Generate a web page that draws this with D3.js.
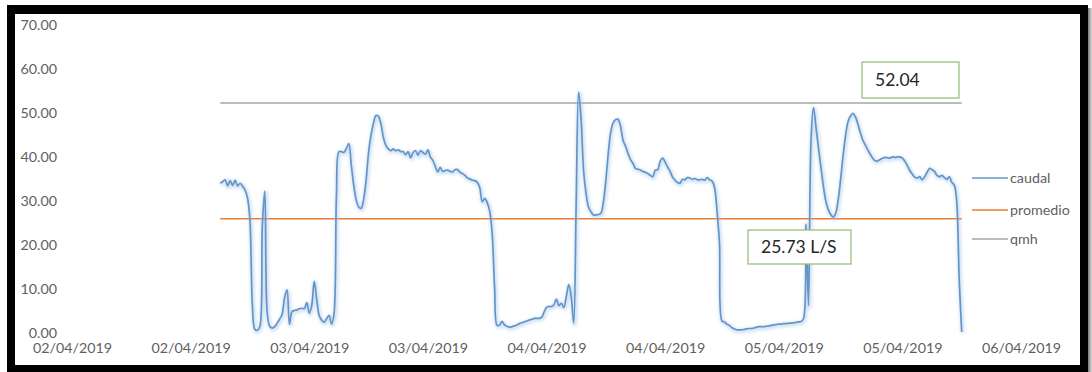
<!DOCTYPE html>
<html>
<head>
<meta charset="utf-8">
<script src="https://cdn.jsdelivr.net/npm/d3@7/dist/d3.min.js"></script>
<style>
  html, body { margin: 0; padding: 0; background: #fff; }
  svg { display: block; }
  text { font-family: Lato, "Liberation Sans", sans-serif; }
</style>
</head>
<body>
<svg id="chart" width="1092" height="372"></svg>
<script>
// Flow readings (L/s), one every 15 minutes, grouped by day.
const startTime = new Date(2019, 3, 2, 15, 0);   // 02/04/2019 15:00
const stepMinutes = 15;

const caudal02 = [ // 02/04 15:00 - 23:45
  33.8,34.2,34.6,33.2, 34.4,33.3,34.5,33.2, 33.8,33.2,32.3,30.5,
  25.4,6.0,0.6,0.4, 1.2,24.0,32.0,4.2, 1.3,0.9,1.2,2.0,
  2.9,4.0,7.8,9.6, 1.8,4.6,4.9,5.0, 5.3,5.4,5.3,6.7
];
const caudal03 = [ // 03/04 00:00 - 23:45
  4.3,6.0,11.5,7.5, 3.8,2.7,2.2,3.0, 3.8,1.8,4.0,31.0,
  41.0,41.0,40.8,41.7, 42.8,38.0,33.3,30.0, 28.4,28.1,30.2,34.5,
  40.8,44.8,47.5,49.2, 49.0,47.3,44.2,42.4, 41.6,41.2,41.6,41.2,
  41.4,41.0,41.0,40.3, 41.0,39.6,40.8,41.2, 40.2,41.2,40.8,40.4,
  41.4,39.8,39.0,37.6, 36.4,37.4,36.5,36.7, 36.8,36.5,36.4,36.9,
  36.9,36.3,36.0,35.6, 35.0,34.8,34.5,34.4, 34.0,32.8,29.6,30.4,
  29.4,27.5,22.5,10.0, 1.5,1.6,2.4,1.6, 1.3,1.1,1.2,1.4,
  1.6,1.9,2.1,2.3, 2.5,2.7,2.9,3.1, 3.1,3.1,3.3,4.5
];
const caudal04 = [ // 04/04 00:00 - 23:45
  5.6,5.8,5.8,6.2, 7.5,6.0,6.5,5.6, 8.0,10.8,8.0,2.0,
  29.0,54.5,48.4,36.7, 31.5,28.4,27.3,26.6, 26.6,26.7,27.0,29.5,
  34.4,40.6,45.5,47.6, 48.3,48.3,46.6,43.5, 42.2,40.5,39.2,38.3,
  37.2,37.0,36.8,36.5, 36.3,36.0,35.6,35.3, 36.8,36.9,38.8,39.5,
  38.6,37.5,36.5,35.2, 34.5,34.0,33.8,34.7, 34.6,35.1,35.0,34.7,
  34.9,34.6,34.6,34.7, 34.5,35.1,34.6,34.3, 32.8,27.5,20.0,2.5,
  2.3,1.8,1.5,1.0, 0.7,0.5,0.5,0.5, 0.6,0.7,0.8,0.8,
  0.9,1.1,1.2,1.2, 1.2,1.3,1.4,1.5, 1.6,1.7,1.8,1.8
];
const caudal05 = [ // 05/04 00:00 - 18:00
  1.9,1.9,2.0,2.0, 2.1,2.2,2.3,2.4, 3.0,24.5,6.0,43.0,
  51.0,46.8,42.0,37.6, 33.3,29.8,27.8,26.7, 26.1,27.0,30.0,34.6,
  40.1,44.6,47.8,49.1, 49.7,48.9,47.2,45.3, 43.6,42.5,41.4,40.4,
  39.5,38.9,38.9,39.2, 39.5,39.7,39.6,39.5, 39.8,39.7,39.8,39.8,
  39.5,38.8,37.8,36.7, 35.9,35.2,35.0,35.3, 34.6,35.3,36.3,37.2,
  36.9,36.5,35.6,35.3, 35.6,35.1,34.7,35.3, 34.0,33.4,29.5,12.0,
  0.0
];

const promedio = 25.73;   // mean flow, L/s
const qmh = 52.04;        // maximum hourly flow

const seriesNames = ["caudal", "promedio", "qmh"];
const seriesColors = ["#6495c8", "#ed7d31", "#a5a5a5"];

const yTicks = [0, 10, 20, 30, 40, 50, 60, 70];
const xTicks = [
  new Date(2019, 3, 2, 0), new Date(2019, 3, 2, 12),
  new Date(2019, 3, 3, 0), new Date(2019, 3, 3, 12),
  new Date(2019, 3, 4, 0), new Date(2019, 3, 4, 12),
  new Date(2019, 3, 5, 0), new Date(2019, 3, 5, 12),
  new Date(2019, 3, 6, 0)
];

const caudal = [].concat(caudal02, caudal03, caudal04, caudal05);
const rows = caudal.map((v, i) => ({
  t: new Date(startTime.getTime() + i * stepMinutes * 60000),
  v: v
}));

const svg = d3.select("#chart");
const W = 1092, H = 372;

// Frame
svg.append("rect").attr("x", 0).attr("y", 0).attr("width", W).attr("height", H).attr("fill", "#fff");
const defs = svg.append("defs");
const sh = defs.append("linearGradient").attr("id", "edgeShade").attr("x1", 0).attr("x2", 1);
sh.append("stop").attr("offset", 0).attr("stop-color", "#444");
sh.append("stop").attr("offset", 1).attr("stop-color", "#ddd");
svg.append("rect").attr("x", 1086).attr("y", 8).attr("width", 6).attr("height", H - 8).attr("fill", "url(#edgeShade)");
svg.append("rect").attr("x", 7).attr("y", 5).attr("width", 1081).attr("height", H - 5).attr("fill", "#000");
svg.append("rect").attr("x", 15).attr("y", 14).attr("width", 1065).attr("height", 351).attr("fill", "#fff");

// Filters for the soft line shadows
const glow = defs.append("filter").attr("id", "glow").attr("x", "-5%").attr("y", "-10%").attr("width", "110%").attr("height", "120%");
glow.append("feGaussianBlur").attr("stdDeviation", 1.8);
const drop = defs.append("filter").attr("id", "drop").attr("x", "-5%").attr("y", "-200%").attr("width", "110%").attr("height", "500%");
drop.append("feGaussianBlur").attr("stdDeviation", 1.2);

// Scales
const x = d3.scaleTime()
  .domain([xTicks[0], xTicks[xTicks.length - 1]])
  .range([72, 1021]);
const y = d3.scaleLinear().domain([0, 70]).range([332, 24]);

// Axes (labels only)
const yAxis = svg.append("g").attr("transform", "translate(57,0)")
  .call(d3.axisLeft(y).tickValues(yTicks).tickFormat(d3.format(".2f")).tickSize(0).tickPadding(0));
yAxis.select(".domain").remove();
yAxis.selectAll("text").attr("font-size", "14.3px").attr("fill", "#5f5f5f")
  .attr("font-family", "Lato, 'Liberation Sans', sans-serif").attr("dy", "0.35em");

const xAxis = svg.append("g").attr("transform", "translate(0,343)")
  .call(d3.axisBottom(x).tickValues(xTicks).tickFormat(d3.timeFormat("%d/%m/%Y")).tickSize(0).tickPadding(0));
xAxis.select(".domain").remove();
xAxis.selectAll("text").attr("font-size", "14.3px").attr("fill", "#5f5f5f")
  .attr("font-family", "Lato, 'Liberation Sans', sans-serif").attr("dy", "0.71em");

// Reference lines: qmh and promedio over the measured span
const t0 = rows[0].t, t1 = rows[rows.length - 1].t;
const refs = [
  { name: "qmh", v: qmh, color: seriesColors[2] },
  { name: "promedio", v: promedio, color: seriesColors[1] }
];
refs.forEach(r => {
  svg.append("line")
    .attr("x1", x(t0)).attr("x2", x(t1))
    .attr("y1", y(r.v) + 2).attr("y2", y(r.v) + 2)
    .attr("stroke", "#000").attr("stroke-opacity", 0.16).attr("stroke-width", 2)
    .attr("filter", "url(#drop)");
  svg.append("line")
    .attr("x1", x(t0)).attr("x2", x(t1))
    .attr("y1", y(r.v)).attr("y2", y(r.v))
    .attr("stroke", r.color).attr("stroke-width", 1.6);
});

// Flow line (smoothed)
const line = d3.line()
  .x(d => x(d.t)).y(d => y(Math.max(0, d.v)))
  .curve(d3.curveCatmullRom.alpha(0.5));

svg.append("path").datum(rows)
  .attr("d", line)
  .attr("fill", "none").attr("stroke", "#9fc2e6").attr("stroke-opacity", 0.45)
  .attr("stroke-width", 4.5).attr("stroke-linejoin", "round")
  .attr("transform", "translate(0.8,1.2)")
  .attr("filter", "url(#glow)");
svg.append("path").datum(rows)
  .attr("d", line)
  .attr("fill", "none").attr("stroke", seriesColors[0])
  .attr("stroke-width", 1.7).attr("stroke-linejoin", "round");

// Value labels
function valueBox(bx, by, bw, bh, label) {
  svg.append("rect").attr("x", bx).attr("y", by).attr("width", bw).attr("height", bh)
    .attr("fill", "#fff").attr("stroke", "#9cbf7a").attr("stroke-width", 1.3);
  svg.append("text").attr("x", bx + 13).attr("y", by + bh / 2).attr("dy", "0.36em")
    .attr("font-size", "17.5px").attr("fill", "#262626").text(label);
}
valueBox(862, 62, 97, 36, d3.format(".2f")(qmh));
valueBox(748, 230, 103, 34, d3.format(".2f")(promedio) + " L/S");

// Legend
const legend = svg.append("g");
seriesNames.forEach((n, i) => {
  const ly = [178, 210, 239][i];
  legend.append("line").attr("x1", 972).attr("x2", 1008).attr("y1", ly).attr("y2", ly)
    .attr("stroke", seriesColors[i]).attr("stroke-width", 1.5);
  legend.append("text").attr("x", 1010).attr("y", ly).attr("dy", "0.33em")
    .attr("font-size", "14.3px").attr("fill", "#5f5f5f").text(n);
});
</script>
</body>
</html>
